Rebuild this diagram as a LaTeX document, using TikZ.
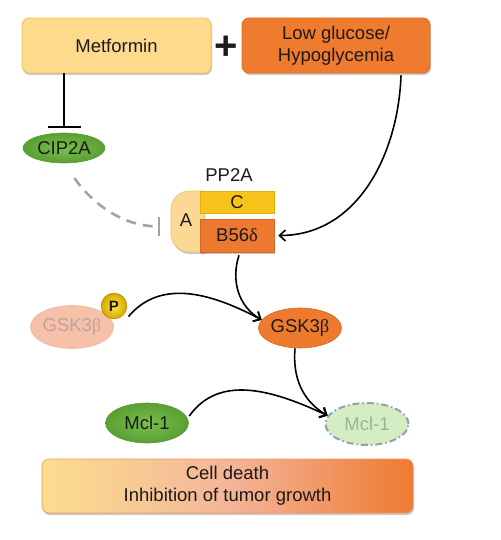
\documentclass[tikz,border=0pt]{standalone}
\usepackage{fontspec}
\setmainfont{Liberation Sans}
\newfontfamily\grkfont{Liberation Serif}
\usetikzlibrary{arrows.meta,shapes.geometric,shadows}
\definecolor{txt}{HTML}{1E1A18}
\definecolor{metfill}{HTML}{FDDA8C}
\definecolor{metdraw}{HTML}{F1C45A}
\definecolor{lowfill}{HTML}{EF7B2F}
\definecolor{lowdraw}{HTML}{E06A20}
\definecolor{greenin}{HTML}{79BF4E}
\definecolor{greenout}{HTML}{5A9F33}
\definecolor{gskfill}{HTML}{EE7A2E}
\definecolor{gskdraw}{HTML}{D9691F}
\definecolor{gskifill}{HTML}{F7C1A9}
\definecolor{gskidraw}{HTML}{EFB49B}
\definecolor{gskitext}{HTML}{BDA39B}
\definecolor{Pin}{HTML}{FFE84A}
\definecolor{Pout}{HTML}{D6A400}
\definecolor{mcldfill}{HTML}{D5EDC3}
\definecolor{mclddraw}{HTML}{86A5AE}
\definecolor{mcldtext}{HTML}{9BB398}
\definecolor{Afill}{HTML}{FBD894}
\definecolor{Adraw}{HTML}{EBC36C}
\definecolor{Cfill}{HTML}{F6C31A}
\definecolor{Cdraw}{HTML}{E3AE0A}
\definecolor{Bfill}{HTML}{ED7930}
\definecolor{Bdraw}{HTML}{D56821}
\definecolor{dashgray}{HTML}{A3A3A3}
\definecolor{gradL}{HTML}{FBDE8D}
\definecolor{gradM}{HTML}{F4B59A}
\definecolor{gradR}{HTML}{EE7A32}
\newcommand{\grk}[1]{{\grkfont #1}}
\begin{document}
\begin{tikzpicture}[x=1pt,y=1pt,
  font=\fontsize{18.5}{22}\selectfont, text=txt,
  shadowed/.style={drop shadow={shadow xshift=1pt,shadow yshift=-2pt,opacity=0.3,fill=black!70}},
  topbox/.style={rounded corners=7pt, minimum height=55pt, align=center, line width=0.8pt, inner sep=0pt, shadowed},
  ell/.style={ellipse, minimum width=83pt, minimum height=40pt, inner sep=0pt, line width=0.6pt},
  arr/.style={line width=1.6pt, -{Straight Barb[length=6pt,width=11pt]}},
  inh/.style={line width=1.6pt, -{Bar[width=33pt]}},
  dinh/.style={line width=2.6pt, dashgray, dash pattern=on 10pt off 7pt, -{Bar[width=19pt,line width=1.6pt]}},
]
\useasboundingbox (0,0) rectangle (500,-540);

% top boxes
\node[topbox, fill=metfill, draw=metdraw, minimum width=189pt] (met) at (116.5,-45.5) {Metformin};
\node[font=\fontsize{40}{40}\selectfont\bfseries] (plus) at (226,-48) {+};
\node[topbox, fill=lowfill, draw=lowdraw, minimum width=188pt] (low) at (336,-45.5) {Low glucose/\\Hypoglycemia};

% CIP2A
\node[ell, minimum width=82pt, minimum height=30pt, inner color=greenin, outer color=greenout, draw=greenout] (cip) at (64,-148) {CIP2A};

% PP2A complex
\node (pplabel) at (229,-175) {PP2A};
\filldraw[fill=Afill, draw=Adraw, line width=0.6pt, shadowed]
  (204,-191) -- (189,-191) arc[start angle=90, end angle=180, radius=18]
  -- (171,-234) arc[start angle=180, end angle=270, radius=18] -- (204,-252) -- cycle;
\node[minimum width=33pt, minimum height=61pt, inner sep=0pt] (A) at (187.5,-221.5) {};
\node at (186,-220) {A};
\node[rectangle, minimum width=74pt, minimum height=22pt, inner sep=0pt, fill=Cfill, draw=Cdraw, line width=0.6pt] (C) at (237,-202) {C};
\node[rectangle, minimum width=74pt, minimum height=33pt, inner sep=0pt, fill=Bfill, draw=Bdraw, line width=0.6pt, shadowed] (B) at (237,-235.5) {B56\grk{δ}};

% GSK3b
\node[ell, minimum height=43pt, fill=gskifill, draw=gskidraw, text=gskitext] (gski) at (72,-327) {GSK3\grk{β}};
\node[circle, minimum size=26pt, inner sep=0pt, inner color=Pin, outer color=Pout, draw=Pout!80!black, font=\fontsize{15}{15}\selectfont\bfseries] (P) at (114,-306) {P};
\node[ell, fill=gskfill, draw=gskdraw] (gska) at (300,-328) {GSK3\grk{β}};

% Mcl-1
\node[ell, inner color=greenin, outer color=greenout, draw=greenout] (mcl) at (147,-423) {Mcl-1};
\node[ell, minimum height=42pt, fill=mcldfill, draw=mclddraw, line width=2pt, dash pattern=on 7pt off 3pt on 1.5pt off 3pt, text=mcldtext] (mcld) at (367,-424) {Mcl-1};

% bottom box
\node[rounded corners=7pt, minimum width=371pt, minimum height=54pt, inner sep=0pt, align=center,
      left color=gradL, right color=gradR, middle color=gradM, draw=gradR!80, line width=0.6pt, shadowed] (res) at (227.5,-486) {Cell death\\Inhibition of tumor growth};

% connectors
\draw[inh, shorten >=5pt] (met.south -| cip.north) -- (cip.north);
\draw[dinh, shorten <=18pt, shorten >=11pt] (cip.south) to[out=-55,in=180] ([yshift=-5pt]A.west);
\draw[arr] ([xshift=65pt,yshift=-2pt]low.south) to[out=-92,in=0] ([xshift=4pt]B.east);
\draw[arr] ([xshift=2pt,yshift=-3pt]B.south) to[out=-108,in=150] (gska.168);
\draw[arr] ([shift={(3pt,-4pt)}]P.-30) to[out=50,in=152] (gska.168);
\draw[arr] ([xshift=-5pt]gska.south) to[out=-95,in=150] (mcld.168);
\draw[arr] ([xshift=3pt]mcl.10) to[out=55,in=155] (mcld.168);
\end{tikzpicture}
\end{document}
